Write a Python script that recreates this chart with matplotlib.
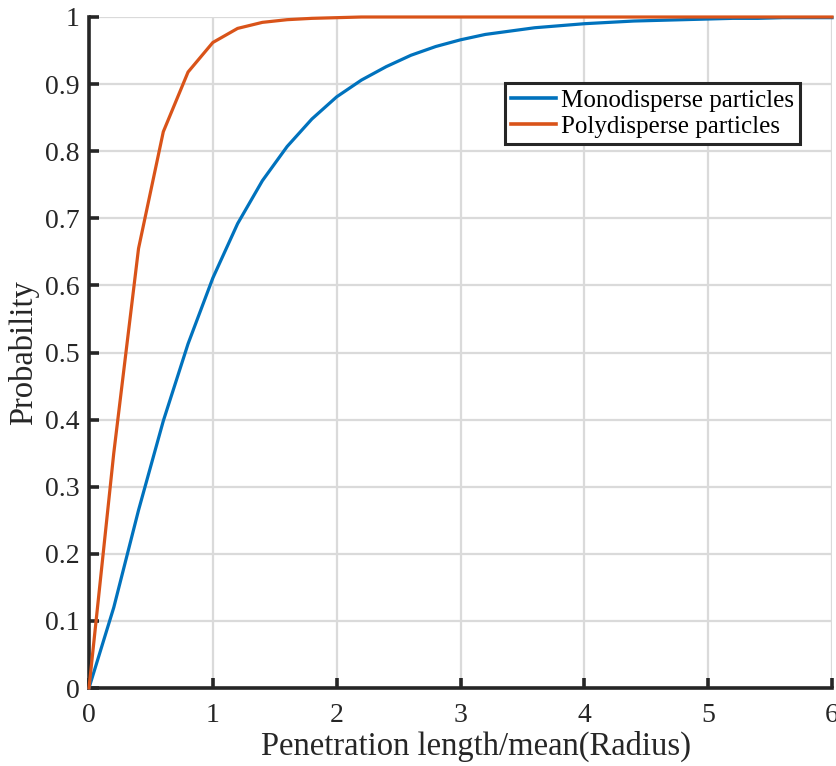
import numpy as np
import matplotlib.pyplot as plt

plt.rcParams['font.family'] = ['Liberation Serif', 'DejaVu Serif']

x = [0, 0.2, 0.4, 0.6, 0.8, 1.0, 1.2, 1.4, 1.6, 1.8, 2.0, 2.2, 2.4, 2.6, 2.8, 3.0,
     3.2, 3.4, 3.6, 3.8, 4.0, 4.2, 4.4, 4.6, 4.8, 5.0, 5.2, 5.4, 5.6, 5.8, 6.0]
mono = [0, 0.12, 0.265, 0.398, 0.513, 0.611, 0.692, 0.756, 0.807, 0.848, 0.881,
        0.906, 0.926, 0.943, 0.956, 0.966, 0.974, 0.979, 0.984, 0.987, 0.990,
        0.992, 0.994, 0.995, 0.996, 0.997, 0.998, 0.998, 0.999, 0.999, 0.999]
poly = [0, 0.35, 0.655, 0.829, 0.918, 0.962, 0.983, 0.992, 0.996, 0.998, 0.999,
        1.0, 1.0, 1.0, 1.0, 1.0, 1.0, 1.0, 1.0, 1.0, 1.0,
        1.0, 1.0, 1.0, 1.0, 1.0, 1.0, 1.0, 1.0, 1.0, 1.0]

fig = plt.figure(figsize=(8.36, 7.66), dpi=100)
ax = fig.add_axes([89/836, 78/766, 743/836, 671/766])

ax.plot(x, mono, color='#0072BD', lw=2.3, label='Monodisperse particles', clip_on=False, zorder=3)
ax.plot(x, poly, color='#D95319', lw=2.3, label='Polydisperse particles', clip_on=False, zorder=3)

ax.set_xlim(0, 6)
ax.set_ylim(0, 1)
ax.set_xticks(range(7))
ax.set_yticks(np.arange(0, 1.01, 0.1))
ax.set_yticklabels(['0', '0.1', '0.2', '0.3', '0.4', '0.5', '0.6', '0.7', '0.8', '0.9', '1'])
ax.grid(True, color='#dadada', lw=1.6)
ax.set_axisbelow(True)

for s in ['top', 'right']:
    ax.spines[s].set_visible(False)
for s in ['left', 'bottom']:
    ax.spines[s].set_linewidth(2.6)
    ax.spines[s].set_color('#262626')
ax.tick_params(direction='in', length=7, width=2.6, color='#262626', labelsize=20,
               labelcolor='#262626')
ax.tick_params(axis='y', pad=7)
ax.tick_params(axis='x', pad=11)

ax.set_xlabel('Penetration length/mean(Radius)', fontsize=23.5, color='#262626')
ax.xaxis.set_label_coords((476 - 89) / 743, -(746 - 688) / 671)
ax.xaxis.label.set_va('center')
ax.set_ylabel('Probability', fontsize=23.5, color='#262626', labelpad=4)

leg = ax.legend(loc='upper right', bbox_to_anchor=(800/836, 1 - 83/766),
                bbox_transform=fig.transFigure, fontsize=18, frameon=True, fancybox=False,
                handlelength=1.8, handletextpad=0.2, borderpad=0.25, labelspacing=0.15,
                borderaxespad=0)
leg.get_frame().set_edgecolor('#262626')
leg.get_frame().set_linewidth(2.2)
leg.get_frame().set_alpha(1)
for line in leg.get_lines():
    line.set_linewidth(2.6)

fig.savefig('out.png', dpi=100)
